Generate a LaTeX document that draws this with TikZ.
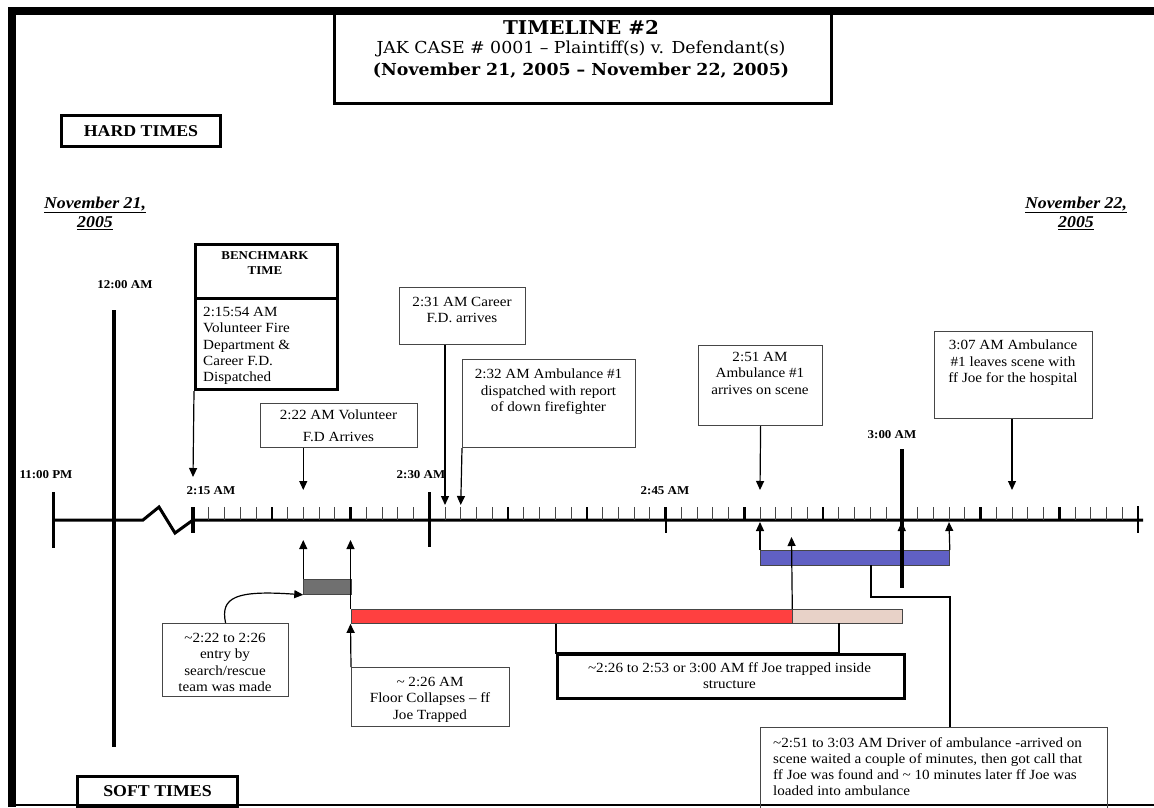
\documentclass[tikz,border=0pt]{standalone}
\usepackage{fontspec}
\setmainfont[FakeStretch=1.08]{Liberation Serif}
\newfontfamily\titlefont[FakeStretch=1.05]{DejaVu Serif}
\usetikzlibrary{arrows.meta, positioning}

\definecolor{trapred}{RGB}{255,64,64}
\definecolor{trappink}{RGB}{232,210,200}
\definecolor{ambblue}{RGB}{96,96,196}
\definecolor{entrygray}{RGB}{112,112,112}
\definecolor{boxline}{RGB}{70,70,70}

\begin{document}
\begin{tikzpicture}[x=1pt, y=-1pt,
    evbox/.style={draw=boxline, line width=1.2pt, inner sep=0pt, anchor=north west},
    evtext/.style={align=center, inner sep=0pt, anchor=north, font=\fontsize{14}{16.3}\selectfont},
    tagbox/.style={draw, line width=3pt, inner sep=0pt, anchor=north west, font=\bfseries\fontsize{16.5}{19}\selectfont},
    timelbl/.style={font=\bfseries\fontsize{12}{14}\selectfont, inner sep=0pt},
    datelbl/.style={font=\bfseries\itshape\fontsize{16.5}{19}\selectfont, align=center, inner sep=0pt},
    evarrow/.style={line width=1.2pt, -{Triangle[length=9pt, width=8pt]}},
    bar/.style={draw=boxline, line width=0.8pt, inner sep=0pt, anchor=north west, minimum height=15pt},
    link/.style={line width=2.5pt},
]
    \useasboundingbox (0,0) rectangle (1154,807);

    % Frame
    \draw[line width=8pt] (12,807) -- (12,11) -- (1154,11);
    \draw[line width=2.5pt] (12,805) -- (1154,805);

    % Title
    \node[draw, line width=3pt, anchor=north west, minimum width=497pt, minimum height=93pt] (title) at (333,9) {};
    \node[font=\titlefont\bfseries\fontsize{19}{23}\selectfont] (ttl) at (581,27) {TIMELINE \#2};
    \node[font=\titlefont\fontsize{16.5}{23}\selectfont] (case) at (581,49) {JAK CASE \# 0001 \textendash\ Plaintiff(s) v. Defendant(s)};
    \node[font=\titlefont\bfseries\fontsize{16.5}{23}\selectfont] (dates) at (581,71) {(November 21, 2005 \textendash\ November 22, 2005)};

    \node[tagbox, minimum width=159pt, minimum height=31pt] (hard) at (60,114) {HARD TIMES};
    \node[tagbox, minimum width=160pt, minimum height=30pt] (soft) at (76,775) {SOFT TIMES};

    \node[datelbl] (nov21) at (95,213) {\underline{November 21,}\\\underline{2005}};
    \node[datelbl] (nov22) at (1076,213) {\underline{November 22,}\\\underline{2005}};

    % Time line
    \node[timelbl] (l1100) at (46,475) {11:00 PM};
    \node[timelbl] (l1200) at (125,285) {12:00 AM};
    \node[timelbl] (l215) at (211,491) {2:15 AM};
    \node[timelbl] (l230) at (421,475) {2:30 AM};
    \node[timelbl] (l245) at (665,491) {2:45 AM};
    \node[timelbl] (l300) at (892,435) {3:00 AM};

    \draw[line width=3pt] (53,520) -- (143,520) -- (159,507) -- (175,533) -- (193,520) -- (1143,520);
    \draw[line width=3pt] (53,492) -- (53,548);
    \draw[line width=3.5pt] (114,310) -- (114,747);
    \foreach \m in {1,...,59} {
        \pgfmathsetmacro{\x}{193+15.75*\m}
        \pgfmathtruncatemacro{\r}{mod(\m,5)}
        \ifnum\r=0
            \draw[line width=2.5pt] (\x,507) -- (\x,520);
        \else
            \draw[line width=1pt, boxline] (\x,507) -- (\x,520);
        \fi
    }
    \draw[line width=3.5pt] (193,507) -- (193,533);
    \draw[line width=3.5pt] (429.25,492) -- (429.25,547);
    \draw[line width=2pt] (665.5,507) -- (665.5,533);
    \draw[line width=2.5pt] (1138,506) -- (1138,533);

    % Arrow ends on the line
    \coordinate (a215) at (193,477);
    \coordinate (a222) at (303.25,490);
    \coordinate (a231) at (445,505);
    \coordinate (a232) at (460.75,505);
    \coordinate (a251) at (760,490);
    \coordinate (a307) at (1012,490);
    \coordinate (u222) at (303.25,540);
    \coordinate (u225) at (350.5,540);
    \coordinate (u251) at (760,522);
    \coordinate (u253) at (791.5,537);
    \coordinate (u300) at (901.75,522);
    \coordinate (u303) at (949,522);

    % Hard times
    \node[evbox, draw=black, line width=3pt, minimum width=142pt, minimum height=145pt] (bench) at (194,243) {};
    \draw[line width=3pt] ([yshift=-55pt]bench.north west) -- ([yshift=-55pt]bench.north east);
    \node[font=\bfseries\fontsize{12}{15}\selectfont, align=center, inner sep=0pt, anchor=north] (benchhead) at (265,251) {BENCHMARK\\TIME};
    \node[evtext, align=left, anchor=north west] (benchtxt) at (203,307) {2:15:54 AM\\Volunteer Fire\\Department \& \\Career F.D.\\Dispatched};

    \node[evbox, minimum width=157pt, minimum height=44pt] (vol) at (260,403) {};
    \node[evtext] (voltxt) at (338.5,410) {2:22 AM Volunteer\\[5pt]F.D Arrives};

    \node[evbox, minimum width=126pt, minimum height=57pt] (career) at (399,287) {};
    \node[evtext] (careertxt) at (462,297) {2:31 AM Career\\F.D. arrives};

    \node[evbox, minimum width=173pt, minimum height=88pt] (amb) at (462,359) {};
    \node[evtext] (ambtxt) at (548.5,369) {2:32 AM Ambulance \#1\\dispatched with report\\of down firefighter};

    \node[evbox, minimum width=124pt, minimum height=80pt] (arrive) at (698,345) {};
    \node[evtext] (arrivetxt) at (760,352) {2:51 AM\\Ambulance \#1\\arrives on scene};

    \node[evbox, minimum width=158pt, minimum height=87pt] (leave) at (934,331) {};
    \node[evtext] (leavetxt) at (1013,340) {3:07 AM Ambulance\\\#1 leaves scene with\\ff Joe for the hospital};

    \draw[evarrow] (bench.south west) -- (a215);
    \draw[evarrow] (vol.south -| a222) -- (a222);
    \draw[evarrow] (career.south -| a231) -- (a231);
    \draw[evarrow] (amb.south west) -- (a232);
    \draw[evarrow] (arrive.south) -- (a251);
    \draw[evarrow] (leave.south -| a307) -- (a307);

    % Soft times
    \node[bar, fill=entrygray, minimum width=47.25pt] (entry) at (303.25,579) {};
    \node[bar, fill=trapred, minimum width=441pt, minimum height=14pt] (trapbar) at (350.5,609) {};
    \node[bar, fill=trappink, minimum width=110.25pt, minimum height=14pt] (maybebar) at (791.5,609) {};
    \node[bar, fill=ambblue, minimum width=189pt] (drivebar) at (760,550) {};

    \draw[line width=4pt] (901.75,449) -- (901.75,588);

    \node[evbox, minimum width=126pt, minimum height=73pt] (entrynote) at (162,623) {};
    \node[evtext] (entrytxt) at (225,633) {\textasciitilde 2:22 to 2:26\\entry by\\search/rescue\\team was made};

    \node[evbox, minimum width=158pt, minimum height=59pt] (floornote) at (351,667) {};
    \node[evtext] (floortxt) at (430,677) {\textasciitilde\ 2:26 AM\\Floor Collapses \textendash\ ff\\Joe Trapped};

    \node[evbox, draw=black, line width=2.5pt, minimum width=347pt, minimum height=44pt] (trapnote) at (556,653) {};
    \node[evtext] (traptxt) at (729.5,662) {\textasciitilde 2:26 to 2:53 or 3:00 AM ff Joe trapped inside\\structure};

    \node[evbox, minimum width=347pt, minimum height=82pt] (driver) at (760,727) {};
    \node[evtext, align=left, anchor=north west] (drivertxt) at (773,737) {\textasciitilde 2:51 to 3:03 AM Driver of ambulance -arrived on\\scene waited a couple of minutes, then got call that\\ff Joe was found and \textasciitilde\ 10 minutes later ff Joe was\\loaded into ambulance};

    \draw[evarrow] (entry.north west) -- (u222);
    \draw[evarrow] (trapbar.north west) -- (u225);
    \draw[evarrow] (entrynote.north) .. controls (220,597) and (236,590) .. (entry.south west);
    \draw[evarrow] (floornote.north west) -- (trapbar.south west);
    \draw[evarrow] (drivebar.north west) -- (u251);
    \draw[evarrow] (trapbar.north east) -- (u253);
    \draw[evarrow] (u300 |- drivebar.north) -- (u300);
    \draw[evarrow] (drivebar.north east) -- (u303);

    % Brackets to the notes
    \coordinate (trapend) at (839,623);
    \coordinate (callpt) at (871,565);
    \coordinate (callbend) at (950,597);
    \draw[link] (trapnote.north west |- trapbar.south) -- (trapnote.north west) -| (trapend);
    \draw[link] (callpt) |- (callbend) -- (callbend |- driver.north);
\end{tikzpicture}
\end{document}
